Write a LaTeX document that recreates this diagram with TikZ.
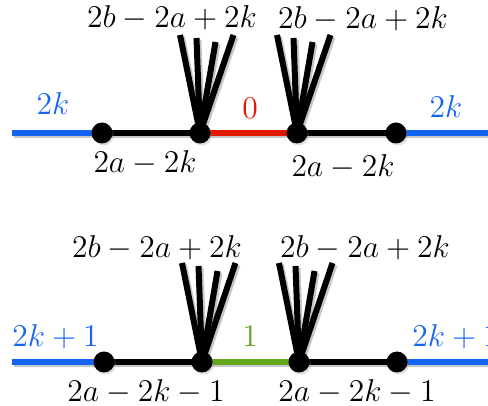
\RequirePackage{fix-cm}
\documentclass[tikz,border=0pt]{standalone}
\usetikzlibrary{positioning,shadows}
\definecolor{edgeblue}{RGB}{20,100,245}
\definecolor{edgered}{RGB}{225,25,0}
\definecolor{edgegreen}{RGB}{100,165,30}
\tikzset{
  shade/.style={preaction={draw=black!22, line width=#1, transform canvas={shift={(0.8pt,-1pt)}}}},
  vert/.style={circle, fill=black, inner sep=0pt, minimum size=10.5pt,
    drop shadow={shadow xshift=0.8pt, shadow yshift=-1pt, opacity=0.25}},
  edge/.style={line width=2.6pt, shade=3.2pt},
  leg/.style={line width=3pt, shade=3.4pt},
  lbl/.style={font=\fontsize{15.8}{18}\selectfont, anchor=base, inner sep=0pt},
}
\begin{document}
\begin{tikzpicture}[x=0.5pt, y=-0.5pt]
    \useasboundingbox (0,0) rectangle (488,406);
    \clip (0,0) rectangle (488,406);

    % even case
    \coordinate (l1) at (12,133);
    \coordinate (r1) at (500,133);
    \foreach \n/\x in {a1/102, b1/200, c1/297, d1/396}
      \coordinate (\n) at (\x,133);
    \draw[edge, edgeblue] (l1) -- (a1);
    \draw[edge] (a1) -- (b1);
    \draw[edge, edgered] (b1) -- (c1);
    \draw[edge] (c1) -- (d1);
    \draw[edge, edgeblue] (d1) -- (r1);
    \foreach \v in {b1, c1}
      \foreach \dx/\dy in {-20/-98, -3.5/-95, 15.5/-91, 33.5/-98}
        \draw[leg] (\v) -- ++(\dx,\dy);
    \foreach \n in {a1, b1, c1, d1}
      \node[vert] (v\n) at (\n) {};

    \node[lbl] (t1) at (172,28) {$2b-2a+2k$};
    \node[lbl] (t2) at (363,29) {$2b-2a+2k$};
    \node[lbl] (s1) at (145,173) {$2a-2k$};
    \node[lbl] (s2) at (343,177) {$2a-2k$};
    \node[lbl, edgeblue] (e1) at (53,115) {$2k$};
    \node[lbl, edgeblue] (e2) at (446,118) {$2k$};
    \node[lbl, edgered] (e0) at (250,119) {$0$};

    % odd case
    \coordinate (l2) at (12,362);
    \coordinate (r2) at (500,362);
    \foreach \n/\x in {a2/104, b2/202, c2/299, d2/397}
      \coordinate (\n) at (\x,362);
    \draw[edge, edgeblue] (l2) -- (a2);
    \draw[edge] (a2) -- (b2);
    \draw[edge, edgegreen] (b2) -- (c2);
    \draw[edge] (c2) -- (d2);
    \draw[edge, edgeblue] (d2) -- (r2);
    \foreach \v in {b2, c2}
      \foreach \dx/\dy in {-20/-99, -3.5/-96, 15.5/-91, 33.5/-99}
        \draw[leg] (\v) -- ++(\dx,\dy);
    \foreach \n in {a2, b2, c2, d2}
      \node[vert] (v\n) at (\n) {};

    \node[lbl] (t3) at (157,258) {$2b-2a+2k$};
    \node[lbl] (t4) at (365,258) {$2b-2a+2k$};
    \node[lbl] (s3) at (146,402) {$2a-2k-1$};
    \node[lbl] (s4) at (357,402) {$2a-2k-1$};
    \node[lbl, edgeblue, anchor=base west] (e3) at (12,347) {$2k+1$};
    \node[lbl, edgeblue, anchor=base west] (e4) at (412,347) {$2k+1$};
    \node[lbl, edgegreen] (e5) at (250,347) {$1$};
\end{tikzpicture}
\end{document}
